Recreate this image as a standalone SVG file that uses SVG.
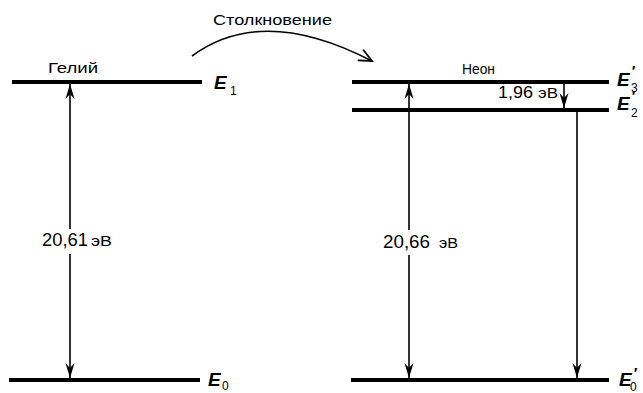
<svg xmlns="http://www.w3.org/2000/svg" width="643" height="393" viewBox="0 0 643 393">
  <style>
    .level { stroke: #000; stroke-width: 4; stroke-linecap: butt; }
    .trans { stroke: #000; stroke-width: 1.6; fill: none; }
    .lbl { font-family: "Liberation Sans", Arial, sans-serif; fill: #000; }
    .en { font-family: "Liberation Sans", Arial, sans-serif; font-style: italic; font-weight: bold; font-size: 19px; fill: #000; }
    .sub { font-style: normal; font-weight: normal; font-size: 12px; }
    .pr { font-size: 15px; }
    .gap { fill: #fff; }
  </style>
  <defs>
    <marker id="head" viewBox="-15 -5 16 10" markerWidth="16" markerHeight="10" refX="0" refY="0" markerUnits="userSpaceOnUse" orient="auto-start-reverse">
      <path d="M0,0 L-15,-4.5 L-10,0 L-15,4.5 Z" fill="#000"/>
    </marker>
    <marker id="open" viewBox="-14 -7 16 14" markerWidth="16" markerHeight="14" refX="0" refY="0" markerUnits="userSpaceOnUse" orient="auto">
      <path d="M-13,-6 L0,0 L-13,6" fill="none" stroke="#000" stroke-width="1.8"/>
    </marker>
  </defs>

  <!-- Helium levels -->
  <g id="helium">
    <text class="lbl" x="48" y="73" font-size="15" textLength="50" lengthAdjust="spacingAndGlyphs">Гелий</text>
    <g id="he-E1">
      <line class="level" x1="12" y1="82" x2="202" y2="82"/>
      <text class="en" x="214" y="89">E<tspan class="sub" x="230" y="95">1</tspan></text>
    </g>
    <g id="he-E0">
      <line class="level" x1="9" y1="380" x2="200" y2="380"/>
      <text class="en" x="208" y="386">E<tspan class="sub" x="222" y="390">0</tspan></text>
    </g>
  </g>

  <!-- Neon levels -->
  <g id="neon">
    <text class="lbl" x="462" y="74" font-size="15" textLength="33" lengthAdjust="spacingAndGlyphs">Неон</text>
    <g id="ne-E3">
      <line class="level" x1="352" y1="82" x2="609" y2="82"/>
      <text class="en" x="617" y="86">E<tspan class="pr" x="631" y="76">′</tspan><tspan class="sub" x="631" y="92">3</tspan></text>
    </g>
    <g id="ne-E2">
      <line class="level" x1="352" y1="110" x2="609" y2="110"/>
      <text class="en" x="617" y="110">E<tspan class="pr" x="631" y="101">′</tspan><tspan class="sub" x="631" y="117">2</tspan></text>
    </g>
    <g id="ne-E0">
      <line class="level" x1="351" y1="380" x2="609" y2="380"/>
      <text class="en" x="619" y="386">E<tspan class="pr" x="633" y="378">′</tspan><tspan class="sub" x="630" y="391">0</tspan></text>
    </g>
  </g>

  <!-- Transitions and collision arrow -->
  <g id="connectors">
    <path class="trans" d="M192,56 Q262,4 372,61" marker-end="url(#open)"/>
    <line class="trans" x1="70" y1="84" x2="70" y2="378" marker-start="url(#head)" marker-end="url(#head)"/>
    <line class="trans" x1="409" y1="84" x2="409" y2="378" marker-start="url(#head)" marker-end="url(#head)"/>
    <line class="trans" x1="564" y1="84" x2="564" y2="108" marker-end="url(#head)"/>
    <line class="trans" x1="577" y1="112" x2="577" y2="378" marker-end="url(#head)"/>
  </g>

  <!-- Energy labels -->
  <g id="labels">
    <text class="lbl" x="213" y="25" font-size="15" textLength="119" lengthAdjust="spacingAndGlyphs">Столкновение</text>

    <rect class="gap" x="41" y="229" width="72" height="25"/>
    <text class="lbl" y="246"><tspan x="42" font-size="18" textLength="46" lengthAdjust="spacingAndGlyphs">20,61</tspan><tspan x="91" font-size="14" textLength="21" lengthAdjust="spacingAndGlyphs">эВ</tspan></text>

    <rect class="gap" x="382" y="230" width="76" height="25"/>
    <text class="lbl" y="248"><tspan x="383" font-size="18" textLength="47" lengthAdjust="spacingAndGlyphs">20,66</tspan><tspan x="439" font-size="14" textLength="19" lengthAdjust="spacingAndGlyphs">эВ</tspan></text>

    <text class="lbl" y="98"><tspan x="498" font-size="17" textLength="35" lengthAdjust="spacingAndGlyphs">1,96</tspan><tspan x="538" font-size="14" textLength="20" lengthAdjust="spacingAndGlyphs">эВ</tspan></text>
  </g>
</svg>
